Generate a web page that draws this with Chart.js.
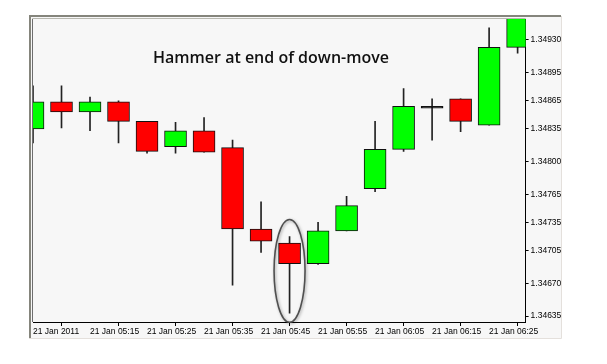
<!DOCTYPE html>
<html>
<head>
<meta charset="utf-8">
<script src="https://cdn.jsdelivr.net/npm/chart.js@4/dist/chart.umd.min.js"></script>
<style>
  html, body { margin: 0; padding: 0; background: #fff; }
  #wrap { width: 607px; height: 364px; }
</style>
</head>
<body>
<div id="wrap"><canvas id="hammer" width="607" height="364"></canvas></div>
<script>
// 5-minute candles, 21 Jan 2011
const times = ['05:05', '05:10', '05:15', '05:20', '05:25', '05:30', '05:35', '05:40', '05:45',
    '05:50', '05:55', '06:00', '06:05', '06:10', '06:15', '06:20', '06:25', '06:30'];
const opens  = [1.34835, 1.34864, 1.34853, 1.34864, 1.34843, 1.34816, 1.34833, 1.34815, 1.34728,
    1.34713, 1.34691, 1.34726, 1.34771, 1.34813, 1.34857, 1.34867, 1.34839, 1.34922];
const highs  = [1.34881, 1.34881, 1.34869, 1.34865, 1.34843, 1.34842, 1.34847, 1.34823, 1.34757,
    1.34720, 1.34735, 1.34763, 1.34843, 1.34878, 1.34867, 1.34867, 1.34943, 1.34965];
const lows   = [1.34820, 1.34836, 1.34833, 1.34820, 1.34809, 1.34809, 1.34810, 1.34668, 1.34703,
    1.34638, 1.34690, 1.34726, 1.34768, 1.34811, 1.34823, 1.34832, 1.34839, 1.34916];
const closes = [1.34864, 1.34853, 1.34864, 1.34843, 1.34811, 1.34833, 1.34810, 1.34728, 1.34715,
    1.34691, 1.34726, 1.34753, 1.34813, 1.34859, 1.34857, 1.34843, 1.34922, 1.34960];

const xTickIdx = [0, 2, 4, 6, 8, 10, 12, 14, 16];
const xTickLabels = ['21 Jan 2011', '21 Jan 05:15', '21 Jan 05:25', '21 Jan 05:35', '21 Jan 05:45',
    '21 Jan 05:55', '21 Jan 06:05', '21 Jan 06:15', '21 Jan 06:25'];
const yTicks = [1.34635, 1.34670, 1.34705, 1.34735, 1.34765, 1.34800, 1.34835, 1.34865, 1.34895, 1.34930];

const hammerIdx = 9;
const title = 'Hammer at end of down-move';

const tickFont = { family: '"Liberation Sans", Arial, sans-serif', size: 8.5 };

const bodies = times.map((t, i) => ({ x: i, y: [opens[i], closes[i]] }));
const wicks = times.map((t, i) => ({ x: i, y: [lows[i], highs[i]] }));

const bodyColor = (ctx) => {
    const i = ctx.dataIndex;
    if (opens[i] === closes[i]) return '#000';
    return closes[i] > opens[i] ? '#00ff00' : '#ff0000';
};

// panel background + frame
const framePlugin = {
    id: 'frame',
    beforeDraw(chart) {
        const c = chart.ctx;
        const a = chart.chartArea;
        c.save();
        c.fillStyle = '#fff';
        c.fillRect(0, 0, chart.width, chart.height);
        c.fillStyle = '#f7f7f7';
        c.fillRect(29, 16, 532, 322);
        c.strokeStyle = '#e4e0dc';
        c.lineWidth = 1;
        c.beginPath();
        c.moveTo(561.5, 16); c.lineTo(561.5, 338.5); c.lineTo(29, 338.5);
        c.stroke();
        c.strokeStyle = '#85857c';
        c.lineWidth = 2;
        c.beginPath();
        c.moveTo(30, 338); c.lineTo(30, 16); c.lineTo(561, 16);
        c.stroke();
        c.strokeStyle = '#b8b8b0';
        c.lineWidth = 1;
        c.beginPath();
        c.moveTo(a.left - 0.5, a.bottom); c.lineTo(a.left - 0.5, a.top - 0.5); c.lineTo(a.right, a.top - 0.5);
        c.stroke();
        c.restore();
    },
    afterDraw(chart) {
        const c = chart.ctx;
        const a = chart.chartArea;
        const xs = chart.scales.x, ys = chart.scales.y;
        c.save();
        c.strokeStyle = '#6e6e6e';
        c.lineWidth = 1;
        c.beginPath();
        c.moveTo(a.left - 0.5, a.top); c.lineTo(a.left - 0.5, a.bottom);
        c.stroke();
        // ring round the hammer
        const cx = xs.getPixelForValue(hammerIdx);
        const top = ys.getPixelForValue(highs[hammerIdx]);
        const bot = ys.getPixelForValue(lows[hammerIdx]);
        c.shadowColor = 'rgba(0,0,0,0.35)';
        c.shadowBlur = 3;
        c.shadowOffsetX = 1;
        c.shadowOffsetY = 1;
        c.strokeStyle = '#505050';
        c.lineWidth = 1.6;
        c.beginPath();
        c.ellipse(cx, (top + bot) / 2 - 4, 15.5, (bot - top) / 2 + 13, 0, 0, Math.PI * 2);
        c.stroke();
        c.shadowColor = 'transparent';
        // heading
        c.fillStyle = '#111';
        c.font = '600 16px "Open Sans", sans-serif';
        c.textAlign = 'center';
        c.textBaseline = 'middle';
        c.fillText(title, 271, 58);
        c.restore();
    }
};

new Chart(document.getElementById('hammer'), {
    type: 'bar',
    data: {
        datasets: [{
            label: 'wick',
            data: wicks,
            backgroundColor: '#222',
            borderWidth: 0,
            barThickness: 1,
            grouped: false,
            order: 2
        }, {
            label: 'body',
            data: bodies,
            backgroundColor: bodyColor,
            borderColor: '#111',
            borderWidth: 1,
            borderSkipped: false,
            barThickness: 22,
            minBarLength: 2,
            grouped: false,
            order: 1
        }]
    },
    options: {
        responsive: false,
        animation: false,
        layout: { padding: { left: 33, top: 19, right: 0, bottom: 0 } },
        plugins: { legend: { display: false }, tooltip: { enabled: false } },
        scales: {
            x: {
                type: 'linear',
                min: 0,
                max: 17.28,
                offset: false,
                afterFit: (scale) => { scale.height = 42; },
                afterBuildTicks: (scale) => { scale.ticks = xTickIdx.map(v => ({ value: v })); },
                grid: { display: true, drawOnChartArea: false, drawTicks: true, tickLength: 4, color: '#000' },
                border: { display: true, color: '#000', width: 1 },
                ticks: {
                    align: 'start',
                    padding: 1,
                    maxRotation: 0,
                    autoSkip: false,
                    color: '#000',
                    font: tickFont,
                    callback: (v) => xTickLabels[xTickIdx.indexOf(v)]
                }
            },
            y: {
                position: 'right',
                min: 1.346286,
                max: 1.349524,
                afterFit: (scale) => { scale.width = 81.4; },
                afterBuildTicks: (scale) => { scale.ticks = yTicks.map(v => ({ value: v })); },
                grid: { display: true, drawOnChartArea: false, drawTicks: true, tickLength: 3, color: '#000' },
                border: { display: true, color: '#000', width: 1 },
                ticks: {
                    padding: 2,
                    color: '#000',
                    font: tickFont,
                    callback: (v) => v.toFixed(5)
                }
            }
        }
    },
    plugins: [framePlugin]
});
</script>
</body>
</html>
